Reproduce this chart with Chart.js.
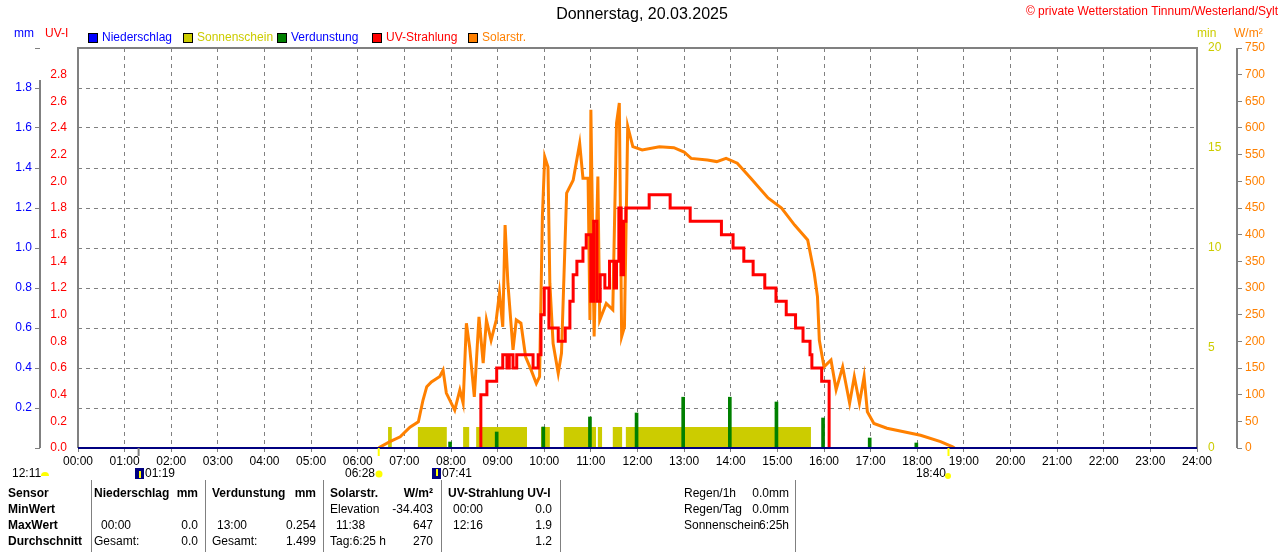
<!DOCTYPE html>
<html>
<head>
<meta charset="utf-8">
<script src="https://cdn.jsdelivr.net/npm/chart.js@4"></script>
<style>
  html, body { margin: 0; padding: 0; background: #fff; }
  #wrap { position: relative; width: 1280px; height: 552px; }
</style>
</head>
<body>
<div id="wrap"><canvas id="c" width="1280" height="552"></canvas></div>
<script>
// x in hours of the day
const hourTicks = ['00:00','01:00','02:00','03:00','04:00','05:00','06:00','07:00','08:00','09:00','10:00','11:00','12:00',
  '13:00','14:00','15:00','16:00','17:00','18:00','19:00','20:00','21:00','22:00','23:00','24:00'];

const solarTime = [6.45, 6.48, 6.69, 6.91, 7.12, 7.3, 7.4, 7.48, 7.58, 7.76, 7.83, 7.9, 8.08, 8.19, 8.26, 8.33, 8.4, 8.5, 8.6,
  8.69, 8.76, 8.86, 8.97, 9.04, 9.11, 9.16, 9.22, 9.33, 9.4, 9.5, 9.6, 9.72, 9.83, 9.9, 9.96, 10.01, 10.08, 10.12, 10.19,
  10.3, 10.37, 10.48, 10.62, 10.76, 10.83, 10.94, 10.98, 11.0, 11.07, 11.15, 11.19, 11.33, 11.47, 11.55, 11.61, 11.66,
  11.72, 11.79, 11.9, 12.1, 12.47, 12.78, 13.0, 13.15, 13.5, 13.7, 13.9, 14.14, 14.43, 14.8, 15.09, 15.37, 15.65, 15.79,
  15.86, 15.9, 16.0, 16.15, 16.26, 16.4, 16.55, 16.65, 16.76, 16.86, 16.93, 17.07, 17.35, 18.07, 18.5, 18.76, 18.8];
const solarValue = [0, 2, 12, 21, 39, 49, 90, 115, 124, 134, 146, 103, 71, 109, 84, 234, 189, 96, 246,
  159, 240, 202, 240, 291, 227, 418, 309, 184, 240, 234, 171, 146, 121, 134, 434, 546, 527, 309, 196,
  140, 178, 478, 502, 571, 506, 506, 240, 634, 209, 509, 240, 271, 259, 609, 647, 209,
  227, 603, 565, 559, 565, 563, 555, 543, 540, 537, 543, 534, 506, 469, 450, 418, 390, 328,
  284, 202, 152, 165, 109, 152, 84, 134, 84, 134, 68, 46, 37, 24, 12, 2, 0];

const uvTime = [8.62, 8.64, 8.77, 8.98, 9.11, 9.2, 9.25, 9.33, 9.41, 9.6, 9.76, 9.87, 9.93, 10.0, 10.1, 10.3, 10.45,
  10.55, 10.62, 10.7, 10.83, 10.9, 11.0, 11.06, 11.13, 11.2, 11.3, 11.4, 11.5, 11.55, 11.6, 11.65, 11.7, 11.75,
  12.25, 12.7, 13.13, 13.8, 14.05, 14.28, 14.48, 14.73, 14.97, 15.19, 15.39, 15.55, 15.7, 15.74, 15.95, 16.11, 16.13];
const uvValue = [0, 0.4, 0.5, 0.6, 0.7, 0.6, 0.7, 0.6, 0.7, 0.7, 0.6, 0.7, 1.0, 1.2, 0.9, 0.8, 0.9,
  1.1, 1.3, 1.4, 1.5, 1.6, 1.1, 1.7, 1.1, 1.3, 1.2, 1.4, 1.2, 1.4, 1.8, 1.3, 1.7, 1.8,
  1.9, 1.8, 1.7, 1.6, 1.5, 1.4, 1.3, 1.2, 1.1, 1.0, 0.9, 0.8, 0.7, 0.6, 0.5, 0, 0];

const sunStart = [6.65, 7.29, 8.26, 8.54, 9.93, 10.42, 11.15, 11.47, 11.75];
const sunEnd   = [6.73, 7.91, 8.39, 9.63, 10.12, 11.11, 11.24, 11.67, 15.72];
const sunLevel = 1.05; // min

const evapTime  = [7.98, 8.98, 9.98, 10.98, 11.98, 12.98, 13.98, 14.98, 15.98, 16.98, 17.98];
const evapValue = [0.03, 0.08, 0.105, 0.155, 0.175, 0.254, 0.254, 0.23, 0.15, 0.05, 0.025];

const rainTime  = [0, 24];
const rainValue = [0, 0];

const FONT = '"Liberation Sans", Arial, sans-serif';
const GRID = '#808080';

const sunPoints = [];
sunStart.forEach((s, i) => {
  sunPoints.push({x: s, y: 0}, {x: s, y: sunLevel}, {x: sunEnd[i], y: sunLevel}, {x: sunEnd[i], y: 0});
});

const fixWidth = w => (scale) => { scale.width = w; };

const decorPlugin = {
  id: 'decor',
  afterDraw(chart) {
    const { ctx } = chart;
    ctx.save();
    ctx.textBaseline = 'middle';
    // title
    ctx.fillStyle = '#000';
    ctx.font = '16px ' + FONT;
    ctx.textAlign = 'center';
    ctx.fillText('Donnerstag, 20.03.2025', 642, 15);
    ctx.font = '12px ' + FONT;
    ctx.textAlign = 'right';
    ctx.fillStyle = '#ff0000';
    ctx.fillText('© private Wetterstation Tinnum/Westerland/Sylt', 1278, 12);
    // axis units
    ctx.textAlign = 'left';
    ctx.fillStyle = '#0000ff'; ctx.fillText('mm', 14, 34);
    ctx.fillStyle = '#ff0000'; ctx.fillText('UV-I', 45, 34);
    ctx.fillStyle = '#cccc00'; ctx.fillText('min', 1197, 34);
    ctx.fillStyle = '#ff8000'; ctx.fillText('W/m²', 1234, 34);
    // legend
    const leg = [
      ['Niederschlag', '#0000ff', '#0000ff', 88],
      ['Sonnenschein', '#cccc00', '#cccc00', 183],
      ['Verdunstung', '#008000', '#0000ff', 277],
      ['UV-Strahlung', '#ff0000', '#ff0000', 372],
      ['Solarstr.', '#ff8000', '#ff8000', 468]
    ];
    leg.forEach(([t, box, col, x]) => {
      ctx.fillStyle = box; ctx.fillRect(x, 33, 10, 10);
      ctx.strokeStyle = '#000'; ctx.lineWidth = 1; ctx.strokeRect(x + 0.5, 33.5, 9, 9);
      ctx.fillStyle = col; ctx.fillText(t, x + 14, 38);
    });
    // plot frame and outer axis lines
    const a = chart.chartArea;
    ctx.strokeStyle = GRID; ctx.lineWidth = 2;
    ctx.beginPath();
    ctx.moveTo(a.left, a.bottom); ctx.lineTo(a.left, a.top); ctx.lineTo(a.right, a.top); ctx.lineTo(a.right, a.bottom);
    ctx.stroke();
    const mmX = chart.scales.yMm.right;
    const wX = chart.scales.yW.left;
    ctx.beginPath(); ctx.moveTo(mmX, 80); ctx.lineTo(mmX, 448); ctx.stroke();
    ctx.beginPath(); ctx.moveTo(wX, 48); ctx.lineTo(wX, 448); ctx.stroke();
    ctx.strokeStyle = '#000080'; ctx.lineWidth = 2;
    ctx.beginPath(); ctx.moveTo(a.left, a.bottom); ctx.lineTo(a.right, a.bottom); ctx.stroke();
    // sun / moon markers
    const xs = chart.scales.x;
    ctx.fillStyle = '#ffff00';
    [6.45, 18.67].forEach(h => ctx.fillRect(xs.getPixelForValue(h) - 1, 448, 2, 8));
    ctx.fillStyle = '#808080';
    ctx.fillRect(xs.getPixelForValue(1.3) - 1, 448, 2, 8);
    ctx.fillStyle = '#000';
    ctx.textAlign = 'left';
    ctx.fillText('12:11', 12, 474);
    ctx.fillText('01:19', 145, 474);
    ctx.fillText('06:28', 345, 474);
    ctx.fillText('07:41', 442, 474);
    ctx.fillText('18:40', 916, 474);
    ctx.fillStyle = '#ffff00';
    ctx.beginPath(); ctx.arc(45, 476, 4, Math.PI, 0); ctx.fill();
    ctx.beginPath(); ctx.arc(379, 474, 3.5, 0, Math.PI * 2); ctx.fill();
    ctx.beginPath(); ctx.arc(948, 476, 3, 0, Math.PI * 2); ctx.fill();
    ctx.fillStyle = '#000080';
    ctx.fillRect(135, 468, 9, 11); ctx.fillRect(432, 468, 9, 11);
    ctx.fillStyle = '#ffff00';
    ctx.fillRect(139, 471, 2, 7); ctx.fillRect(436, 469, 2, 7);
    // table
    ctx.strokeStyle = '#808080'; ctx.lineWidth = 1;
    [91, 205, 323, 441, 560, 795].forEach(x => {
      ctx.beginPath(); ctx.moveTo(x + 0.5, 480); ctx.lineTo(x + 0.5, 552); ctx.stroke();
    });
    const rows = [494, 510, 526, 542];
    ctx.font = 'bold 12px ' + FONT;
    ctx.fillStyle = '#000';
    ['Sensor', 'MinWert', 'MaxWert', 'Durchschnitt'].forEach((t, i) => ctx.fillText(t, 8, rows[i]));
    const left = (t, x, r, bold) => { ctx.font = (bold ? 'bold ' : '') + '12px ' + FONT; ctx.textAlign = 'left'; ctx.fillText(t, x, rows[r]); };
    const right = (t, x, r, bold) => { ctx.font = (bold ? 'bold ' : '') + '12px ' + FONT; ctx.textAlign = 'right'; ctx.fillText(t, x, rows[r]); };
    left('Niederschlag', 94, 0, true); right('mm', 198, 0, true);
    left('Verdunstung', 212, 0, true); right('mm', 316, 0, true);
    left('Solarstr.', 330, 0, true); right('W/m²', 433, 0, true);
    left('UV-Strahlung UV-I', 448, 0, true);
    left('Elevation', 330, 1); right('-34.403', 433, 1);
    left('00:00', 453, 1); right('0.0', 552, 1);
    left('00:00', 101, 2); right('0.0', 198, 2);
    left('13:00', 217, 2); right('0.254', 316, 2);
    left('11:38', 336, 2); right('647', 433, 2);
    left('12:16', 453, 2); right('1.9', 552, 2);
    left('Gesamt:', 94, 3); right('0.0', 198, 3);
    left('Gesamt:', 212, 3); right('1.499', 316, 3);
    left('Tag:6:25 h', 330, 3); right('270', 433, 3);
    right('1.2', 552, 3);
    left('Regen/1h', 684, 0); right('0.0mm', 789, 0);
    left('Regen/Tag', 684, 1); right('0.0mm', 789, 1);
    left('Sonnenschein', 684, 2); right('6:25h', 789, 2);
    ctx.restore();
  }
};

new Chart(document.getElementById('c'), {
  data: {
    datasets: [
      { type: 'line', label: 'Sonnenschein', data: sunPoints, yAxisID: 'yMin', borderWidth: 0,
        backgroundColor: '#cccc00', fill: 'origin', pointRadius: 0, tension: 0, order: 5 },
      { type: 'bar', label: 'Verdunstung', data: evapTime.map((t, i) => ({x: t, y: evapValue[i]})), yAxisID: 'yMm',
        backgroundColor: '#008000', barThickness: 3, order: 4 },
      { type: 'line', label: 'Niederschlag', data: rainTime.map((t, i) => ({x: t, y: rainValue[i]})), yAxisID: 'yMm',
        borderColor: '#0000ff', borderWidth: 1, pointRadius: 0, order: 3 },
      { type: 'line', label: 'Solarstr.', data: solarTime.map((t, i) => ({x: t, y: solarValue[i]})), yAxisID: 'yW',
        borderColor: '#ff8000', borderWidth: 3, pointRadius: 0, tension: 0, order: 2 },
      { type: 'line', label: 'UV-Strahlung', data: uvTime.map((t, i) => ({x: t, y: uvValue[i]})), yAxisID: 'yUv',
        borderColor: '#ff0000', borderWidth: 3, pointRadius: 0, stepped: 'before', order: 1 }
    ]
  },
  options: {
    responsive: false,
    animation: false,
    layout: { padding: { top: 48, right: 0, left: 0, bottom: 0 } },
    plugins: { legend: { display: false }, tooltip: { enabled: false } },
    scales: {
      x: {
        type: 'linear', min: 0, max: 24, offset: false, afterFit: (s) => { s.height = 104; },
        border: { display: false, dash: [4, 4] },
        grid: { color: GRID, drawTicks: true, tickLength: 4, offset: false },
        ticks: { stepSize: 1, autoSkip: false, maxRotation: 0, color: '#000', font: { size: 12, family: FONT }, padding: 2,
          callback: (v) => hourTicks[v] }
      },
      yUv: {
        position: 'left', min: 0, max: 3.0, afterFit: fixWidth(38),
        border: { display: false },
        grid: { display: false },
        ticks: { stepSize: 0.2, color: '#ff0000', font: { size: 12, family: FONT },
          callback: (v) => v < 2.9 ? v.toFixed(1) : '' }
      },
      yMm: {
        position: 'left', min: 0, max: 2.0, afterFit: fixWidth(40),
        border: { display: false, dash: [4, 4] },
        grid: { color: GRID, tickLength: 5 },
        ticks: { stepSize: 0.2, color: '#0000ff', font: { size: 12, family: FONT },
          callback: (v) => (v > 0.01 && v < 1.99) ? v.toFixed(1) : '' }
      },
      yMin: {
        position: 'right', min: 0, max: 20, afterFit: fixWidth(40),
        border: { display: false },
        grid: { display: false, drawOnChartArea: false },
        ticks: { stepSize: 5, color: '#cccc00', font: { size: 12, family: FONT } }
      },
      yW: {
        position: 'right', min: 0, max: 750, afterFit: fixWidth(43),
        border: { display: false },
        grid: { drawOnChartArea: false, color: GRID, tickLength: 5 },
        ticks: { stepSize: 50, color: '#ff8000', font: { size: 12, family: FONT } }
      }
    }
  },
  plugins: [decorPlugin]
});
</script>
</body>
</html>
